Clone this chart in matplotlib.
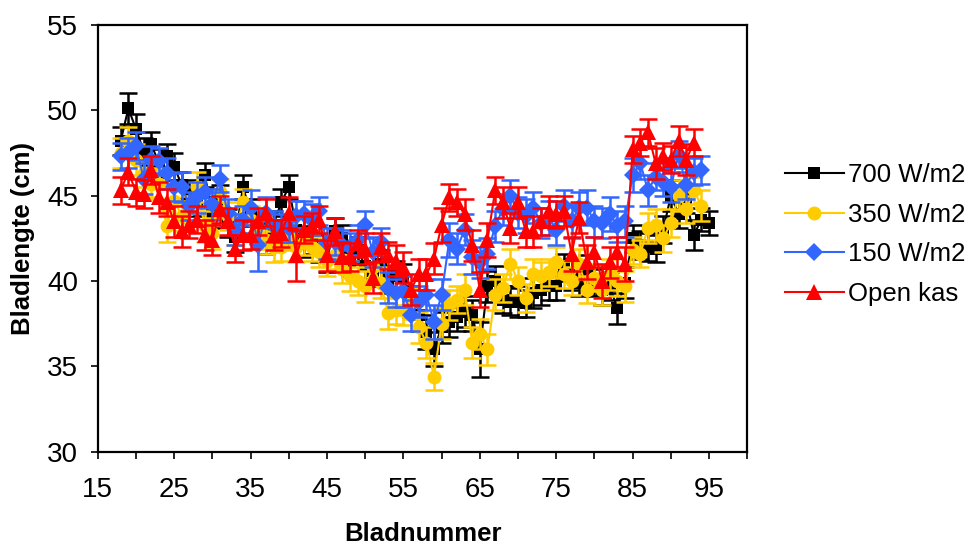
import numpy as np
import matplotlib
matplotlib.use('Agg')
import matplotlib.pyplot as plt

plt.rcParams['font.family'] = ['Liberation Sans', 'DejaVu Sans']

# leaf number per series
x700 = list(range(18, 96))
x350 = list(range(18, 95))
x150 = list(range(18, 95))
xopen = list(range(18, 94))

# mean leaf length (cm)
y700 = [48.2, 50.1, 48.9, 47.6, 48.0, 46.9, 47.3, 46.7, 45.6, 45.0,
        44.6, 46.2, 44.0, 44.8, 43.4, 42.6, 45.5, 44.0, 43.0, 42.5,
        43.3, 44.6, 45.5, 43.0, 42.2, 42.4, 41.9, 41.4, 42.9, 42.5,
        41.2, 41.8, 40.9, 40.6, 41.0, 40.1, 40.3, 40.2, 38.8, 38.0,
        37.0, 36.0, 37.3, 37.6, 37.9, 38.2, 38.0, 36.0, 39.7, 40.0,
        38.9, 38.8, 38.8, 38.7, 39.3, 39.5, 39.7, 39.7, 40.8, 40.4,
        39.9, 40.6, 39.9, 39.5, 39.7, 38.4, 39.9, 42.5, 42.1, 42.0,
        41.9, 43.0, 45.0, 43.9, 44.8, 42.7, 43.6, 43.4]
y350 = [47.5, 48.2, 47.1, 46.3, 45.7, 45.7, 43.2, 44.7, 43.8, 44.2,
        45.5, 43.2, 42.8, 45.2, 43.8, 43.0, 44.6, 43.6, 42.8, 42.4,
        42.0, 42.0, 42.6, 42.0, 42.3, 42.0, 41.7, 41.2, 41.5, 40.7,
        40.3, 40.0, 39.7, 40.8, 39.9, 38.1, 38.3, 38.3, 38.7, 37.3,
        36.4, 34.4, 37.5, 38.6, 38.9, 39.5, 36.4, 36.9, 36.0, 39.2,
        39.6, 41.0, 40.0, 39.0, 40.4, 40.3, 40.5, 41.1, 40.4, 40.0,
        41.0, 39.5, 40.2, 39.5, 40.4, 40.0, 39.7, 41.8, 41.6, 43.1,
        43.3, 42.5, 43.4, 45.0, 44.2, 45.3, 44.4]
y150 = [47.3, 47.5, 47.9, 46.0, 47.1, 47.0, 46.3, 45.5, 45.5, 44.4,
        44.9, 45.2, 44.5, 46.0, 44.0, 43.0, 43.6, 44.3, 42.1, 44.0,
        43.2, 43.1, 43.1, 43.8, 43.9, 43.6, 44.1, 42.2, 42.3, 42.1,
        42.0, 42.4, 43.3, 41.7, 42.3, 39.6, 39.3, 39.4, 38.0, 38.8,
        39.2, 37.6, 39.2, 42.4, 41.9, 43.0, 41.4, 41.1, 41.6, 43.2,
        44.2, 45.0, 44.0, 43.8, 44.3, 43.4, 43.7, 43.0, 44.4, 43.5,
        44.3, 44.3, 43.5, 43.4, 43.9, 43.2, 43.5, 46.2, 46.9, 45.3,
        46.1, 45.8, 45.5, 47.4, 45.6, 46.4, 46.5]
yopen = [45.3, 46.4, 45.2, 45.1, 46.5, 44.9, 44.6, 43.5, 42.9, 43.3,
         43.6, 42.7, 42.4, 44.2, 43.5, 41.9, 42.7, 42.7, 43.5, 44.0,
         42.7, 42.8, 44.0, 41.5, 43.0, 43.2, 43.6, 41.5, 42.9, 41.4,
         41.4, 42.2, 41.9, 40.2, 42.0, 41.5, 41.2, 40.8, 39.5, 40.4,
         40.4, 41.3, 43.3, 44.9, 44.6, 43.9, 42.1, 39.5, 42.4, 45.3,
         44.6, 43.1, 44.6, 42.9, 42.9, 43.5, 44.1, 43.9, 44.1, 41.6,
         43.7, 41.1, 41.7, 40.0, 41.1, 41.7, 41.0, 47.7, 48.1, 48.7,
         46.9, 47.3, 47.1, 48.2, 47.1, 48.1]

# standard errors (cm)
e700 = [0.8, 0.9, 0.9, 0.8, 0.7, 0.8, 0.7, 0.8, 0.8, 0.9,
        0.8, 0.7, 0.9, 0.8, 0.8, 0.9, 0.7, 0.8, 0.8, 0.9,
        0.8, 0.8, 0.7, 0.9, 0.8, 0.8, 0.8, 0.9, 0.8, 0.8,
        0.9, 0.8, 0.8, 0.9, 0.8, 0.8, 0.9, 0.8, 0.9, 0.9,
        1.0, 1.0, 0.9, 0.9, 0.8, 0.9, 0.9, 1.6, 0.9, 0.9,
        0.8, 0.8, 0.9, 0.8, 0.9, 0.9, 0.8, 0.8, 0.8, 0.9,
        0.8, 0.9, 0.8, 0.9, 0.8, 0.9, 0.9, 0.8, 0.8, 0.8,
        0.8, 0.8, 0.9, 0.8, 0.8, 0.9, 0.7, 0.7]
e350 = [0.9, 0.8, 0.9, 0.8, 0.8, 0.9, 0.9, 0.8, 0.9, 0.8,
        0.9, 0.9, 0.9, 0.8, 0.8, 0.9, 0.8, 0.8, 0.9, 0.8,
        0.9, 0.8, 0.8, 0.9, 0.8, 0.8, 0.9, 0.9, 0.8, 0.8,
        0.9, 0.8, 0.9, 0.8, 0.9, 0.9, 0.8, 0.9, 0.9, 0.9,
        0.9, 0.8, 0.9, 0.9, 0.8, 0.9, 0.9, 0.9, 0.9, 0.9,
        0.8, 0.9, 0.8, 0.8, 0.9, 0.8, 0.8, 0.9, 0.8, 0.8,
        0.9, 0.8, 0.8, 0.9, 0.9, 0.9, 0.9, 0.8, 0.8, 0.9,
        0.9, 0.8, 0.8, 0.9, 0.8, 0.8, 0.9]
e150 = [0.8, 0.9, 0.8, 0.9, 0.8, 0.8, 0.9, 0.8, 0.9, 0.8,
        0.9, 0.9, 0.9, 0.8, 0.8, 0.9, 0.8, 1.0, 1.5, 0.9,
        0.9, 0.8, 0.8, 0.9, 0.8, 0.9, 0.8, 0.9, 0.8, 0.9,
        0.8, 0.9, 0.8, 0.9, 0.8, 0.9, 0.8, 0.9, 0.9, 0.9,
        0.9, 1.0, 0.9, 1.0, 0.9, 0.9, 1.0, 0.9, 0.9, 0.9,
        0.9, 0.9, 0.9, 1.0, 0.9, 0.9, 1.0, 0.9, 0.9, 1.0,
        0.9, 1.0, 0.9, 0.9, 1.0, 0.9, 0.9, 1.0, 0.9, 0.9,
        0.8, 0.8, 0.9, 0.8, 0.8, 0.8, 0.8]
eopen = [0.8, 0.8, 0.8, 0.8, 0.8, 0.9, 0.8, 0.9, 0.9, 0.8,
         0.8, 0.9, 0.9, 0.8, 0.8, 0.8, 0.9, 0.8, 0.8, 0.8,
         0.9, 0.8, 0.9, 1.5, 0.8, 0.8, 0.8, 0.9, 0.8, 0.9,
         0.8, 0.8, 0.9, 0.9, 0.8, 0.8, 0.9, 0.9, 0.9, 0.9,
         0.9, 0.9, 1.0, 0.8, 0.8, 0.9, 0.9, 1.0, 1.0, 0.8,
         0.9, 0.9, 0.9, 0.9, 0.9, 0.8, 0.9, 0.8, 0.9, 1.0,
         0.9, 1.0, 0.9, 1.0, 0.9, 0.9, 1.0, 0.8, 0.8, 0.8,
         0.9, 0.8, 0.8, 0.9, 0.9, 0.8]

labels = ['700 W/m2', '350 W/m2', '150 W/m2', 'Open kas']

fig = plt.figure(figsize=(9.68, 5.51), dpi=100)
ax = fig.add_axes([0.101, 0.180, 0.671, 0.775])

series = [
    (x700, y700, e700, '#000000', 's', 9),
    (x350, y350, e350, '#FFCC00', 'o', 10),
    (x150, y150, e150, '#3366FF', 'D', 9),
    (xopen, yopen, eopen, '#FF0000', '^', 11),
]
for i, (xs, ys, es, c, m, ms) in enumerate(series):
    ax.errorbar(xs, ys, yerr=es, fmt='none', ecolor=c, elinewidth=1.8,
                capsize=6.5, capthick=1.8, zorder=2 + 2 * i)
    ax.plot(xs, ys, color=c, lw=1.5, marker=m, markersize=ms,
            markeredgewidth=0, label=labels[i], zorder=3 + 2 * i)

ax.set_xlim(15, 100)
ax.set_ylim(30, 55)
ax.set_xticks(np.arange(15, 101, 5))
ax.set_xticklabels([str(v) if v % 10 == 5 and v < 100 else '' for v in range(15, 101, 5)])
ax.set_yticks(np.arange(30, 56, 5))
ax.tick_params(direction='out', length=5, width=1.2, labelsize=20, pad=9)
ax.tick_params(axis='x', pad=13)
for s in ax.spines.values():
    s.set_linewidth(1.6)

ax.set_ylabel('Bladlengte (cm)', fontsize=18.5, fontweight='bold', labelpad=9)
ax.set_xlabel('Bladnummer', fontsize=18.5, fontweight='bold', labelpad=14)

fig.legend(loc='upper left', bbox_to_anchor=(0.800, 0.722), frameon=False,
           fontsize=18.5, handlelength=2.3, handletextpad=0.15,
           labelspacing=0.6, borderaxespad=0)

fig.savefig('out.png', dpi=100)
